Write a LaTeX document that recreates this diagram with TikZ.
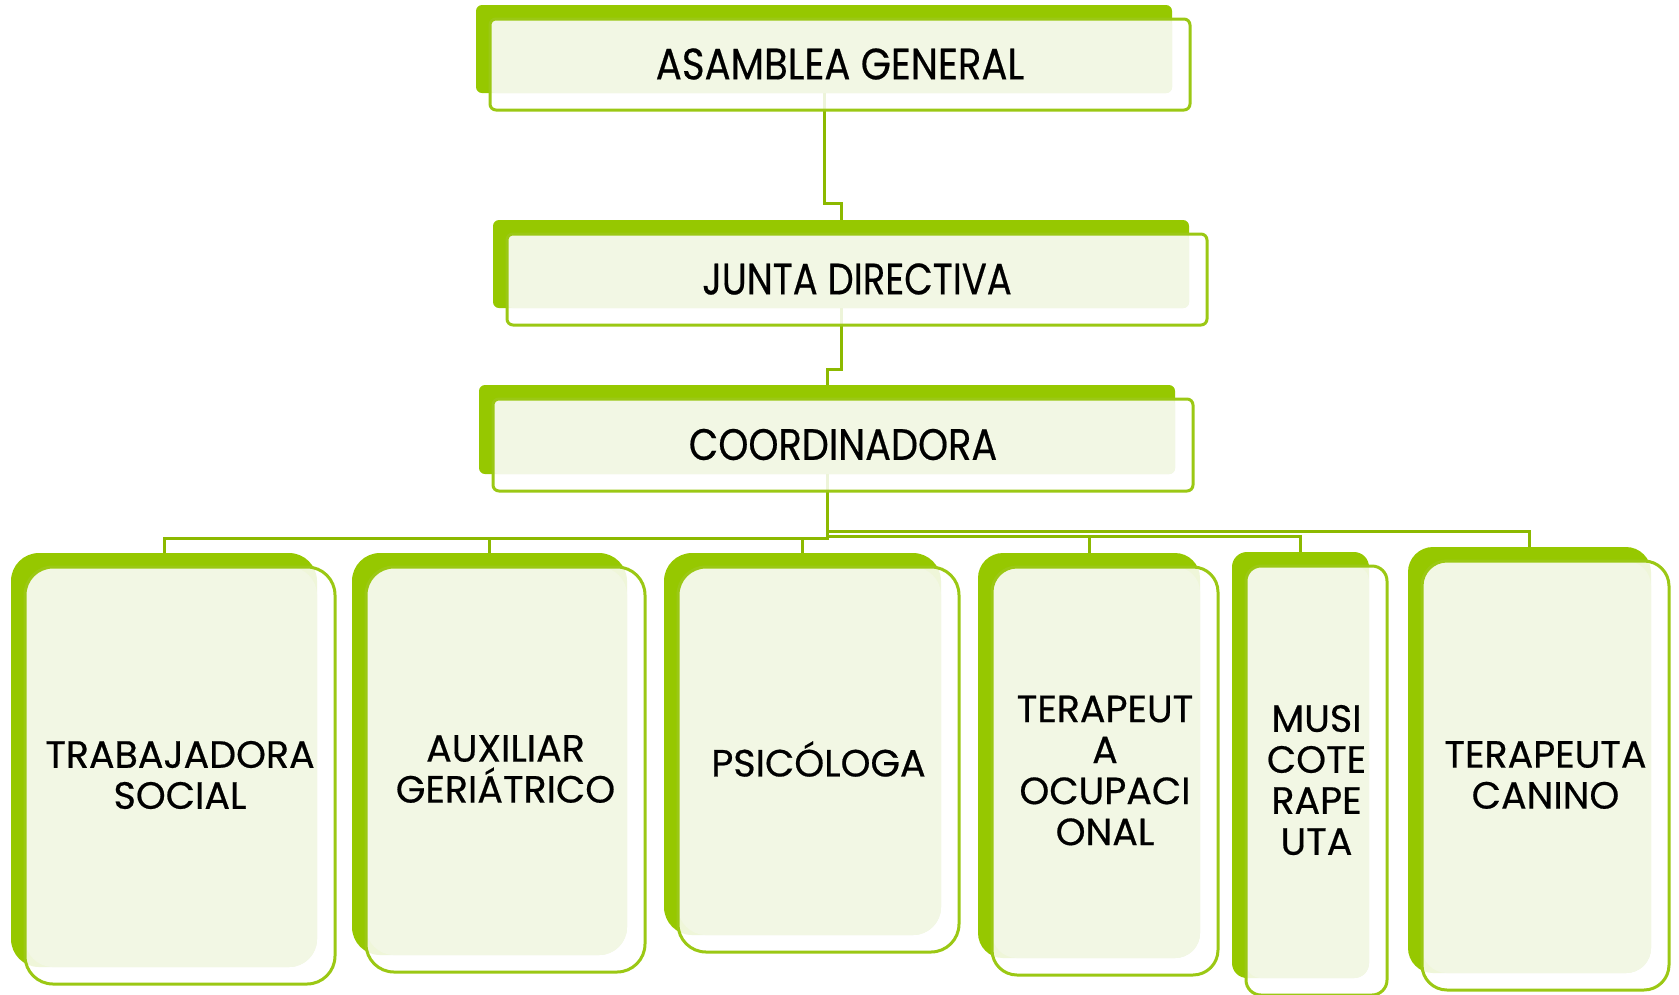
\documentclass[tikz,border=0pt]{standalone}
\usepackage{fontspec}
\setmainfont{Poppins}
\newfontfamily\lblfont{Poppins}[FakeBold=0.5]
\pgfdeclarelayer{bk}\pgfdeclarelayer{cn}
\pgfsetlayers{bk,cn,main}
\definecolor{backgreen}{RGB}{150,200,0}
\definecolor{lightfill}{RGB}{242,247,228}
\definecolor{edgegreen}{RGB}{155,200,20}
\definecolor{conngreen}{RGB}{140,185,0}
\tikzset{
  backbox/.style={fill=backgreen, draw=none, inner sep=0pt},
  frontfill/.style={fill=white, fill opacity=0.85},
  lightbox/.style={fill=lightfill},
  frontedge/.style={draw=edgegreen, line width=3pt},
  lbl/.style={font=\lblfont\fontsize{38}{41}\selectfont, align=center, text=black, inner sep=0pt},
  toplbl/.style={font=\lblfont\fontsize{44}{48}\selectfont, align=center, text=black, inner sep=0pt},
  connector/.style={draw=conngreen, line width=3pt},
}
\newcommand\orgbox[8]{%
  \begin{pgfonlayer}{bk}
    \node[backbox, rounded corners=#6, minimum width={(#4-#2)*1pt}, minimum height={(#5-#3)*1pt}] (#1) at ({(#2+#4)/2},{(#3+#5)/2}) {};
  \end{pgfonlayer}
  \fill[frontfill, rounded corners=#6] ({#2+14},{#3+14}) rectangle ({#4+18},{#5+17});
  \fill[lightbox, rounded corners=#6] ({#2+14},{#3+14}) rectangle (#4,#5);
  \draw[frontedge, rounded corners=#6] ({#2+14},{#3+14}) rectangle ({#4+18},{#5+17});
  \node[#7] (#1-t) at ({(#2+#4)/2+16},{(#3+#5)/2+15}) {#8};
}
\begin{document}
\begin{tikzpicture}[x=1pt, y=-1pt]
\useasboundingbox (0,0) rectangle (1679,994);
\orgbox{ag}{476}{5}{1172}{93}{6pt}{toplbl}{\scalebox{0.88}[1]{ASAMBLEA GENERAL}}
\orgbox{jd}{493}{220}{1189}{308}{6pt}{toplbl}{\scalebox{0.84}[1]{JUNTA DIRECTIVA}}
\orgbox{co}{479}{385}{1175}{474}{6pt}{toplbl}{\scalebox{0.87}[1]{COORDINADORA}}
\orgbox{b1}{11}{553}{317}{967}{28pt}{lbl}{TRABAJADORA\\SOCIAL}
\orgbox{b2}{352}{553}{627}{955}{28pt}{lbl}{AUXILIAR\\GERIÁTRICO}
\orgbox{b3}{664}{553}{941}{935}{28pt}{lbl}{PSICÓLOGA}
\orgbox{b4}{978}{553}{1200}{958}{25pt}{lbl}{TERAPEUT\\A\\OCUPACI\\ONAL}
\orgbox{b5}{1232}{552}{1369}{978}{15pt}{lbl}{MUSI\\COTE\\RAPE\\UTA}
\orgbox{b6}{1408}{547}{1651}{973}{25pt}{lbl}{TERAPEUTA\\CANINO}
\coordinate (ya) at (0,203);
\coordinate (yb) at (0,369);
\coordinate (busA) at (0,538);
\coordinate (busB) at (0,531);
\coordinate (busC) at (0,536);
\begin{pgfonlayer}{cn}
\draw[connector] (ag.south) -- (ag.south |- ya) -| (jd.north);
\draw[connector] (jd.south) -- (jd.south |- yb) -| (co.north);
\draw[connector] (co.south) -- (co.south |- busA) -| (b1.north);
\draw[connector] (co.south |- busA) -| (b2.north);
\draw[connector] (co.south |- busA) -| (b3.north);
\draw[connector] (co.south) -- (co.south |- busB) -| (b6.north);
\draw[connector] (co.south |- busC) -| (b4.north);
\draw[connector] (co.south |- busC) -| (b5.north);
\end{pgfonlayer}
\end{tikzpicture}
\end{document}
